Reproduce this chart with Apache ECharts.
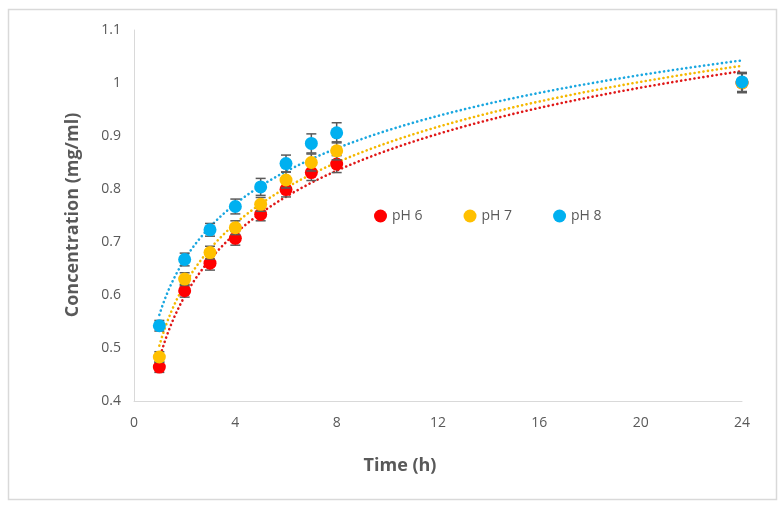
<!DOCTYPE html>
<html><head><meta charset="utf-8">
<script src="https://cdn.jsdelivr.net/npm/echarts@6/dist/echarts.min.js"></script>
<style>html,body{margin:0;padding:0;background:#fff}#c{width:784px;height:509px}</style>
</head><body><div id="c"></div>
<script>
const times = [1, 2, 3, 4, 5, 6, 7, 8, 24];
const seriesNames = ['pH 6', 'pH 7', 'pH 8'];
const ph6 = [0.464, 0.608, 0.660, 0.707, 0.752, 0.799, 0.831, 0.847, 1.000];
const ph7 = [0.483, 0.630, 0.680, 0.727, 0.771, 0.817, 0.850, 0.872, 1.000];
const ph8 = [0.542, 0.667, 0.723, 0.767, 0.804, 0.848, 0.886, 0.906, 1.002];
const err6 = [0.010, 0.012, 0.013, 0.013, 0.012, 0.014, 0.015, 0.016, 0.018];
const err7 = [0.010, 0.012, 0.012, 0.013, 0.013, 0.015, 0.016, 0.017, 0.018];
const err8 = [0.010, 0.012, 0.012, 0.014, 0.016, 0.016, 0.018, 0.019, 0.018];
const xTicks = [0, 4, 8, 12, 16, 20, 24];
const yTicks = [0.4, 0.5, 0.6, 0.7, 0.8, 0.9, 1.0, 1.1];
const colors = ['#FF0000', '#FFC000', '#00B0F0'];
const trendColors = ['#E01818', '#F5B800', '#1AA7E0'];

const values = [ph6, ph7, ph8];
const errs = [err6, err7, err8];

// Excel-style logarithmic trendline: least squares fit of y on ln(x)
function logFit(xs, ys) {
  const n = xs.length;
  let sx = 0, sy = 0, sxx = 0, sxy = 0;
  for (let i = 0; i < n; i++) {
    const l = Math.log(xs[i]);
    sx += l; sy += ys[i]; sxx += l * l; sxy += l * ys[i];
  }
  const a = (n * sxy - sx * sy) / (n * sxx - sx * sx);
  const b = (sy - a * sx) / n;
  return { a, b };
}
function trendPoints(fit) {
  const pts = [];
  const x0 = times[0], x1 = times[times.length - 1];
  const steps = 200;
  for (let i = 0; i <= steps; i++) {
    const x = x0 + (x1 - x0) * i / steps;
    pts.push([x, fit.a * Math.log(x) + fit.b]);
  }
  return pts;
}

const chart = echarts.init(document.getElementById('c'));
const font = "'Liberation Sans Narrow', 'Open Sans', sans-serif";
const series = [];
values.forEach((v, k) => {
  series.push({
    type: 'line', name: seriesNames[k] + ' trend', data: trendPoints(logFit(times, v)),
    showSymbol: false, smooth: false, silent: true, z: 2,
    lineStyle: { color: trendColors[k], width: 2.6, type: [0.1, 4.4], cap: 'round' }
  });
});
values.forEach((v, k) => {
  series.push({
    type: 'custom', name: seriesNames[k] + ' err', z: 3 + k * 2, silent: true,
    data: times.map((t, i) => [t, v[i] - errs[k][i], v[i] + errs[k][i]]),
    renderItem: function (params, api) {
      const lo = api.coord([api.value(0), api.value(1)]);
      const hi = api.coord([api.value(0), api.value(2)]);
      const w = 5;
      const st = { stroke: '#5A5A5A', lineWidth: 1.5 };
      return { type: 'group', children: [
        { type: 'line', shape: { x1: lo[0], y1: lo[1], x2: hi[0], y2: hi[1] }, style: st },
        { type: 'line', shape: { x1: lo[0] - w, y1: lo[1], x2: lo[0] + w, y2: lo[1] }, style: st },
        { type: 'line', shape: { x1: hi[0] - w, y1: hi[1], x2: hi[0] + w, y2: hi[1] }, style: st }
      ]};
    }
  });
});
values.forEach((v, k) => {
  series.push({
    type: 'scatter', name: seriesNames[k], z: 4 + k * 2,
    data: times.map((t, i) => [t, v[i]]),
    symbol: 'circle', symbolSize: 13,
    itemStyle: { color: colors[k], opacity: 1 }
  });
});

chart.setOption({
  animation: false,
  backgroundColor: '#fff',
  grid: { left: 134, right: 42, top: 30, bottom: 108, containLabel: false },
  legend: {
    data: seriesNames.map((n, k) => ({ name: n, icon: 'circle', itemStyle: { color: colors[k], opacity: 1 } })),
    left: 369, top: 204, itemWidth: 13, itemHeight: 13, itemGap: 41,
    textStyle: { color: '#595959', fontSize: 14, fontFamily: font }
  },
  xAxis: {
    type: 'value', min: xTicks[0], max: xTicks[xTicks.length - 1], interval: 4,
    axisLine: { show: true, lineStyle: { color: '#D9D9D9', width: 1 } },
    axisTick: { show: false }, splitLine: { show: false },
    axisLabel: { color: '#595959', fontSize: 14, fontFamily: font, margin: 15 }
  },
  yAxis: {
    type: 'value', min: yTicks[0], max: yTicks[yTicks.length - 1], interval: 0.1,
    axisLine: { show: true, lineStyle: { color: '#D9D9D9', width: 1 } },
    axisTick: { show: false }, splitLine: { show: false },
    axisLabel: { color: '#595959', fontSize: 14, fontFamily: font, margin: 13,
      formatter: v => String(Math.round(v * 10) / 10) }
  },
  graphic: [
    { type: 'rect', shape: { x: 8.5, y: 9.5, width: 768, height: 490 }, style: { fill: 'none', stroke: '#D9D9D9', lineWidth: 1.5 }, silent: true, z: -1 },
    { type: 'text', x: 400, y: 466, style: { text: 'Time (h)', fill: '#595959', font: 'bold 18px ' + font, textAlign: 'center', textVerticalAlign: 'middle' } },
    { type: 'text', x: 73, y: 215, rotation: Math.PI / 2, style: { text: 'Concentration (mg/ml)', fill: '#595959', font: 'bold 18px ' + font, textAlign: 'center', textVerticalAlign: 'middle' } }
  ],
  series: series
});
</script></body></html>
